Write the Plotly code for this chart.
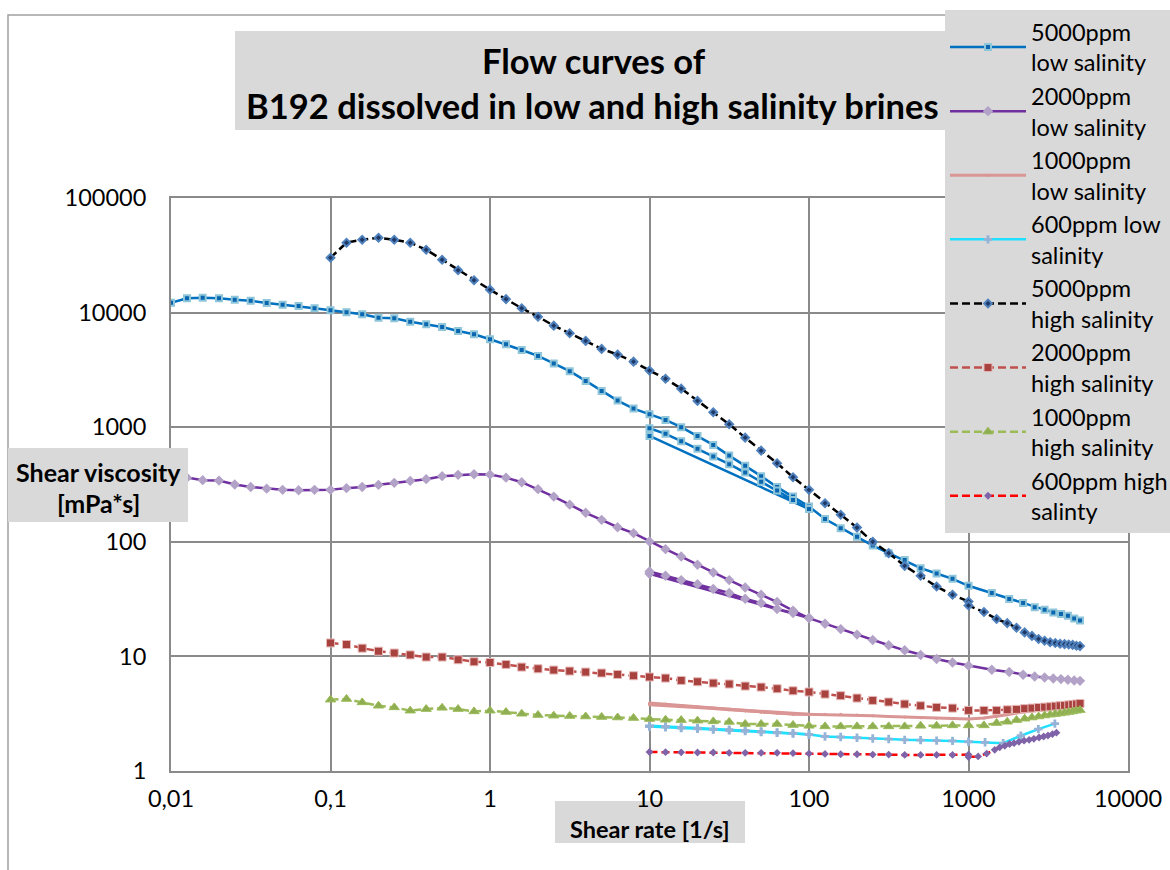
import plotly.graph_objects as go

# ---------------------------------------------------------------------------
# Shear-rate grids [1/s]
# ---------------------------------------------------------------------------
# logarithmic sweep, 10 points per decade from 0.01 to 1000 1/s
RATE_DEC = [0.01, 0.0126, 0.0158, 0.02, 0.0251, 0.0316, 0.0398, 0.0501, 0.0631, 0.0794,
            0.1, 0.126, 0.158, 0.2, 0.251, 0.316, 0.398, 0.501, 0.631, 0.794,
            1, 1.26, 1.58, 2, 2.51, 3.16, 3.98, 5.01, 6.31, 7.94,
            10, 12.6, 15.8, 20, 25.1, 31.6, 39.8, 50.1, 63.1, 79.4,
            100, 126, 158, 200, 251, 316, 398, 501, 631, 794, 1000]
# linear high-rate steps
RATE_STEP400 = [1400, 1800, 2200, 2600, 3000, 3400, 3800, 4200, 4600, 5000]
RATE_STEP250 = [1250, 1500, 1750, 2000, 2250, 2500, 2750, 3000, 3250, 3500,
                3750, 4000, 4250, 4500, 4750, 5000]
RATE_RED_HIGH = [1150, 1300, 1460, 1570, 1690, 1810, 1930, 2070, 2230, 2400,
                 2570, 2770, 2960, 3150, 3360, 3560]
RATE_CYAN_HIGH = [1270, 1650, 2130, 2740, 3480]
# hysteresis check: up-sweep 10 -> 100 1/s, then back to 10 1/s
RATE_LOOP = [10, 12.6, 15.8, 20, 25.1, 31.6, 39.8, 50.1, 63.1, 79.4, 100, 10]

# ---------------------------------------------------------------------------
# Shear viscosity [mPa*s]
# ---------------------------------------------------------------------------
# 5000 ppm, low salinity (RATE_DEC + RATE_STEP400)
VISC_5000_LOW = [12200, 13330, 13490, 13330, 12960, 12700, 12130, 11720, 11420, 10900,
                 10470, 10060, 9665, 9030, 8920, 8330, 7910, 7490, 6910, 6465,
                 5850, 5290, 4720, 4190, 3590, 3080, 2535, 2073, 1706, 1453,
                 1298, 1158, 1000, 839, 701, 565, 462, 374, 300, 248,
                 203, 158, 131.6, 110.5, 92.8, 79.6, 69.2, 58.9, 52.9, 47.5,
                 41.3,
                 35.7, 31.7, 29.2, 26.9, 25.5, 24.2, 23.4, 22.6, 21.4, 20.6]
VISC_5000_LOW_LOOP = [980, 875, 755, 647, 554, 476, 402, 335, 280, 232, 193, 840]

# 2000 ppm, low salinity (RATE_DEC + RATE_STEP400)
VISC_2000_LOW = [384, 363, 345, 342, 316, 301, 291, 284, 282, 284,
                 284, 294, 301, 314, 327, 340, 352, 374, 384, 389,
                 386, 363, 331, 288, 248, 211, 179, 155.5, 134, 119,
                 100.5, 86.3, 74.4, 63, 54, 46.3, 39.9, 34.5, 29.8, 25.1,
                 21.6, 19.3, 17.3, 15.5, 13.9, 12.5, 11.3, 10.3, 9.48, 8.85,
                 8.30,
                 7.64, 7.30, 6.92, 6.68, 6.55, 6.42, 6.34, 6.25, 6.17, 6.12]
VISC_2000_LOW_LOOP = [55, 50.5, 46.3, 42.7, 38.7, 35.7, 31.8, 29.2, 25.9, 23.9, 21.6, 52.6]

# 1000 ppm, low salinity (RATE_DEC[30:] + RATE_STEP250)
VISC_1000_LOW = [3.92, 3.84, 3.73, 3.64, 3.54, 3.44, 3.36, 3.27, 3.20, 3.14,
                 3.12, 3.12, 3.12, 3.08, 3.04, 2.99, 2.96, 2.92, 2.88, 2.86,
                 2.84,
                 2.90, 2.99, 3.10, 3.20, 3.28, 3.36, 3.43, 3.49, 3.54, 3.59,
                 3.63, 3.67, 3.71, 3.75, 3.78, 3.81]
VISC_1000_LOW_LOOP = [3.78, 3.72, 3.65, 3.58, 3.51, 3.43, 3.35, 3.27, 3.20, 3.14, 3.12, 3.85]

# 600 ppm, low salinity (RATE_DEC[30:] + RATE_CYAN_HIGH)
VISC_600_LOW = [2.48, 2.45, 2.40, 2.37, 2.32, 2.29, 2.26, 2.21, 2.17, 2.14,
                2.08, 2.00, 1.98, 1.95, 1.92, 1.90, 1.87, 1.86, 1.84, 1.83,
                1.80,
                1.78, 1.75, 2.03, 2.32, 2.59]
VISC_600_LOW_LOOP = [2.44, 2.41, 2.37, 2.33, 2.30, 2.26, 2.23, 2.19, 2.15, 2.12, 2.09, 2.46]

# 5000 ppm, high salinity (RATE_DEC[10:] + [1000] + RATE_STEP250)
VISC_5000_HIGH = [30130, 40740, 43250, 45000, 43250, 40740, 35380, 28920, 23390, 19140,
                  15850, 13100, 10920, 9210, 7690, 6600, 5660, 4820, 4300, 3730,
                  3120, 2650, 2170, 1696, 1351, 1062, 811, 625, 485, 366,
                  284, 217, 172, 133, 100, 79.6, 61.7, 50.5, 40.7, 34.5,
                  30.1, 27.8,
                  24.4, 21.2, 19.5, 17.8, 16.2, 15.1, 14.2, 13.7, 13.3, 13.1,
                  12.9, 12.8, 12.7, 12.6, 12.4, 12.3]

# 2000 ppm, high salinity (RATE_DEC[10:] + RATE_STEP250)
VISC_2000_HIGH = [13.1, 12.7, 11.8, 11.1, 10.7, 10.3, 9.87, 9.87, 9.35, 8.98,
                  8.85, 8.51, 8.07, 7.80, 7.60, 7.45, 7.30, 7.16, 6.96, 6.78,
                  6.61, 6.47, 6.17, 6.01, 5.85, 5.74, 5.51, 5.40, 5.22, 5.01,
                  4.89, 4.69, 4.54, 4.33, 4.13, 4.00, 3.84, 3.71, 3.59, 3.54,
                  3.38,
                  3.38, 3.38, 3.42, 3.45, 3.50, 3.54, 3.58, 3.61, 3.64, 3.68,
                  3.71, 3.74, 3.77, 3.81, 3.84, 3.88]

# 1000 ppm, high salinity (RATE_DEC[10:] + RATE_STEP250)
VISC_1000_HIGH = [4.19, 4.25, 3.97, 3.71, 3.59, 3.36, 3.47, 3.56, 3.47, 3.31,
                  3.36, 3.27, 3.16, 3.08, 3.04, 3.02, 2.99, 2.96, 2.93, 2.90,
                  2.84, 2.80, 2.78, 2.75, 2.71, 2.68, 2.57, 2.57, 2.57, 2.52,
                  2.48, 2.45, 2.45, 2.45, 2.45, 2.45, 2.45, 2.48, 2.48, 2.50,
                  2.50,
                  2.50, 2.62, 2.69, 2.78, 2.86, 2.93, 2.99, 3.05, 3.10, 3.14,
                  3.18, 3.22, 3.27, 3.31, 3.36, 3.40]

# 600 ppm, high salinity (RATE_DEC[30:] + [1000] + RATE_RED_HIGH)
VISC_600_HIGH = [1.465, 1.46, 1.455, 1.45, 1.45, 1.44, 1.44, 1.44, 1.44, 1.43,
                 1.42, 1.41, 1.40, 1.40, 1.39, 1.39, 1.38, 1.38, 1.38, 1.38,
                 1.39, 1.325,
                 1.34, 1.42, 1.53, 1.61, 1.66, 1.72, 1.75, 1.80, 1.84, 1.87,
                 1.91, 1.96, 2.00, 2.04, 2.10, 2.16]

X_TICKS = [0.01, 0.1, 1, 10, 100, 1000, 10000]
X_TICK_TEXT = ["0,01", "0,1", "1", "10", "100", "1000", "10000"]
Y_TICKS = [1, 10, 100, 1000, 10000, 100000]
Y_TICK_TEXT = ["1", "10", "100", "1000", "10000", "100000"]

# ---------------------------------------------------------------------------
# layout geometry (pixels in a 1170 x 870 canvas)
# ---------------------------------------------------------------------------
W, H = 1170, 870
PLOT_L, PLOT_R, PLOT_T, PLOT_B = 171, 1128, 198, 771
FONT = "Lato"
GRID = "#8a8a8a"
BOX = "#d9d9d9"
DASH = "8px,4px"


def px_x(px):
    return (px - PLOT_L) / (PLOT_R - PLOT_L)


def px_y(py):
    return (PLOT_B - py) / (PLOT_B - PLOT_T)


def joined(*segments):
    """Concatenate (x, y) segments with a gap between them."""
    xs, ys = [], []
    for i, (sx, sy) in enumerate(segments):
        if i:
            xs.append(None)
            ys.append(None)
        xs += list(sx)
        ys += list(sy)
    return xs, ys


fig = go.Figure()


def add_series(name, segments, line, marker):
    x, y = joined(*segments)
    fig.add_trace(go.Scatter(x=x, y=y, name=name, mode="lines+markers",
                             line=line, marker=marker, connectgaps=False))


add_series("5000ppm<br>low salinity",
           [(RATE_DEC + RATE_STEP400, VISC_5000_LOW), (RATE_LOOP, VISC_5000_LOW_LOOP)],
           dict(color="#0070c0", width=2.5),
           dict(symbol="square", size=6, color="#0b66b0",
                line=dict(color="#8fc6da", width=2)))
add_series("2000ppm<br>low salinity",
           [(RATE_DEC + RATE_STEP400, VISC_2000_LOW), (RATE_LOOP, VISC_2000_LOW_LOOP)],
           dict(color="#7030a0", width=2.5),
           dict(symbol="diamond", size=8, color="#b3a2c7"))
add_series("1000ppm<br>low salinity",
           [(RATE_DEC[30:] + RATE_STEP250, VISC_1000_LOW), (RATE_LOOP, VISC_1000_LOW_LOOP)],
           dict(color="#d99694", width=3),
           dict(symbol="circle", size=3, color="#d99694"))
add_series("600ppm low<br>salinity",
           [(RATE_DEC[30:] + RATE_CYAN_HIGH, VISC_600_LOW), (RATE_LOOP, VISC_600_LOW_LOOP)],
           dict(color="#1fe0ff", width=2.5),
           dict(symbol="cross", size=7, color="#95b3d7"))
add_series("5000ppm<br>high salinity",
           [(RATE_DEC[10:] + [1000] + RATE_STEP250, VISC_5000_HIGH)],
           dict(color="#000000", width=2.5, dash=DASH),
           dict(symbol="diamond", size=6, color="#1f3864",
                line=dict(color="#4f81bd", width=2)))
add_series("2000ppm<br>high salinity",
           [(RATE_DEC[10:] + RATE_STEP250, VISC_2000_HIGH)],
           dict(color="#c0504d", width=2.5, dash=DASH),
           dict(symbol="square", size=8, color="#a8423e",
                line=dict(color="#e6b9b8", width=1)))
add_series("1000ppm<br>high salinity",
           [(RATE_DEC[10:] + RATE_STEP250, VISC_1000_HIGH)],
           dict(color="#9bbb59", width=2.5, dash=DASH),
           dict(symbol="triangle-up", size=9, color="#8fae52",
                line=dict(color="#9bbb59", width=1)))
add_series("600ppm high<br>salinty",
           [(RATE_DEC[30:] + [1000] + RATE_RED_HIGH, VISC_600_HIGH)],
           dict(color="#ff0000", width=2.5, dash=DASH),
           dict(symbol="diamond", size=6, color="#7f63a8"))

axis_common = dict(
    type="log", showgrid=True, gridcolor=GRID, gridwidth=2,
    showline=True, linecolor=GRID, linewidth=2, mirror=True,
    ticks="", zeroline=False,
    tickfont=dict(family=FONT, size=23.5, color="#000000"),
)

fig.update_xaxes(range=[-2, 4], tickvals=X_TICKS, ticktext=X_TICK_TEXT,
                 ticklabelstandoff=6, **axis_common)
fig.update_yaxes(range=[0, 5], tickvals=Y_TICKS, ticktext=Y_TICK_TEXT,
                 ticklabelstandoff=18, **axis_common)

shapes = [
    # chart border
    dict(type="rect", xref="paper", yref="paper",
         x0=px_x(8), x1=px_x(1190), y0=px_y(890), y1=px_y(15),
         line=dict(color="#a0a0a0", width=1.5), fillcolor="rgba(0,0,0,0)"),
    # title box
    dict(type="rect", xref="paper", yref="paper",
         x0=px_x(235), x1=px_x(945), y0=px_y(130), y1=px_y(31),
         line=dict(width=0), fillcolor=BOX),
    # y-axis title box
    dict(type="rect", xref="paper", yref="paper",
         x0=px_x(8), x1=px_x(188), y0=px_y(522), y1=px_y(448),
         line=dict(width=0), fillcolor=BOX),
    # x-axis title box (kept under the tick labels)
    dict(type="rect", xref="paper", yref="paper", layer="below",
         x0=px_x(555), x1=px_x(745), y0=px_y(843), y1=px_y(801),
         line=dict(width=0), fillcolor=BOX),
]


def label(text, cx, cy, size, bold=True):
    return dict(text=f"<b>{text}</b>" if bold else text, xref="paper", yref="paper",
                x=px_x(cx), y=px_y(cy), xanchor="center", yanchor="middle",
                showarrow=False, font=dict(family=FONT, size=size, color="#000000"))


annotations = [
    label("Flow curves of", 594, 60, 34.5),
    label("B192 dissolved in low and high salinity brines", 592, 106, 34.5),
    label("Shear viscosity", 98, 472, 25),
    label("[mPa*s]", 98, 503, 25),
    label("Shear rate [1/s]", 650, 829, 23.5),
]

fig.update_layout(
    width=W, height=H,
    margin=dict(l=PLOT_L, r=W - PLOT_R, t=PLOT_T, b=H - PLOT_B, autoexpand=False),
    paper_bgcolor="#ffffff", plot_bgcolor="#ffffff",
    font=dict(family=FONT, color="#000000"),
    shapes=shapes, annotations=annotations,
    showlegend=True,
    legend=dict(x=px_x(945), y=px_y(533), xanchor="left", yanchor="bottom",
                bgcolor=BOX, borderwidth=0, itemwidth=76,
                font=dict(family=FONT, size=23.5, color="#000000"),
                tracegroupgap=0),
    hovermode=False,
)

fig.write_html("out.html")
